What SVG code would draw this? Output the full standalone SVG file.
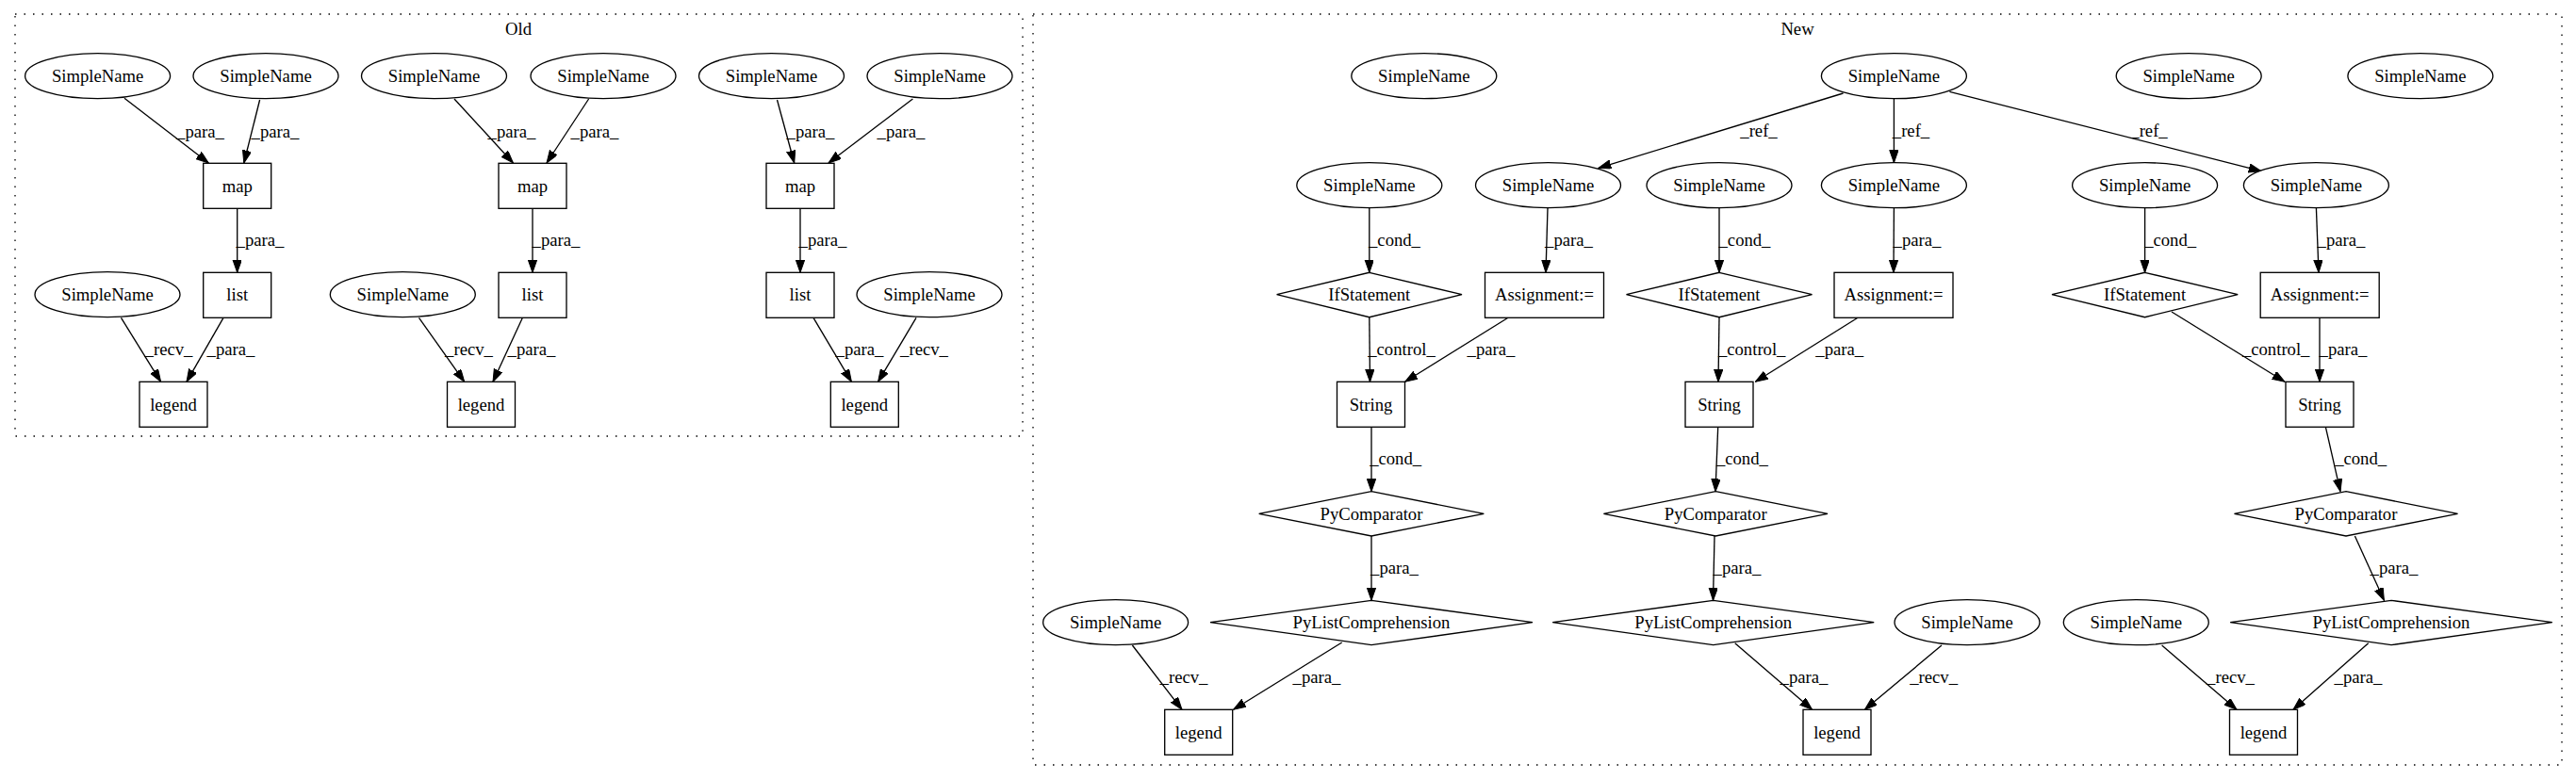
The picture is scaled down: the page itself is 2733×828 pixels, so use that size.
<svg xmlns="http://www.w3.org/2000/svg" width="2733" height="828" viewBox="0 0 2733 828">
<style>
text{font-family:"Liberation Serif","Times New Roman",serif;font-size:18.67px;fill:#000;text-anchor:middle}
.s{fill:#fff;stroke:#000;stroke-width:1.33}
.c{fill:none;stroke:#000;stroke-width:1.33;stroke-dasharray:1.5,8}
.e line{stroke:#000;stroke-width:1.33;marker-end:url(#a)}
</style>
<defs>
<marker id="a" markerUnits="userSpaceOnUse" markerWidth="14" markerHeight="10" refX="13.3" refY="4.67" orient="auto">
<path d="M0,0 L13.3,4.67 L0,9.33 z" fill="#000" stroke="#000" stroke-width="1"/>
</marker>
</defs>
<rect width="2733" height="828" fill="#fff"/>
<g id="cluster_old"><rect class="c" x="16" y="15" width="1069" height="448"/><text x="550" y="37">Old</text></g>
<g id="cluster_new"><rect class="c" x="1096" y="15" width="1622" height="797"/><text x="1907" y="37">New</text></g>

<g id="edges" class="e">
<line x1="132" y1="104.3" x2="221.3" y2="173"/>
<line x1="275.6" y1="106" x2="258.8" y2="173"/>
<line x1="251.7" y1="221.3" x2="251.7" y2="289.3"/>
<line x1="128.5" y1="337.3" x2="170.6" y2="405.3"/>
<line x1="237" y1="337.3" x2="198" y2="405.3"/>
<line x1="482" y1="105" x2="544.4" y2="173"/>
<line x1="624.6" y1="105" x2="580" y2="173"/>
<line x1="565" y1="221.3" x2="565" y2="289.3"/>
<line x1="444.5" y1="337.3" x2="492.7" y2="405.3"/>
<line x1="554.4" y1="337.3" x2="523" y2="405.3"/>
<line x1="824.5" y1="106" x2="842.7" y2="173"/>
<line x1="968.4" y1="105" x2="879" y2="173"/>
<line x1="849" y1="221.3" x2="849" y2="289.3"/>
<line x1="863" y1="337.3" x2="903.4" y2="405.3"/>
<line x1="972" y1="337.3" x2="931.6" y2="405.3"/>

<line x1="1955.5" y1="99" x2="1696" y2="178.3"/>
<line x1="2009.4" y1="104.7" x2="2009.4" y2="172.7"/>
<line x1="2068.4" y1="97.3" x2="2399" y2="181.7"/>
<line x1="1452.8" y1="220.7" x2="1452.8" y2="289.3"/>
<line x1="1642" y1="220.7" x2="1640" y2="289.3"/>
<line x1="1452.8" y1="336.7" x2="1453.5" y2="405.3"/>
<line x1="1600" y1="337.3" x2="1490.7" y2="405.3"/>
<line x1="1455" y1="453.3" x2="1455" y2="521.7"/>
<line x1="1455" y1="569" x2="1455" y2="637.3"/>
<line x1="1201.4" y1="685" x2="1254" y2="753.3"/>
<line x1="1423.7" y1="682" x2="1308.6" y2="753.3"/>
<line x1="1824" y1="220.7" x2="1824" y2="289.3"/>
<line x1="2009.4" y1="220.7" x2="2009" y2="289.3"/>
<line x1="1824" y1="336.7" x2="1823" y2="405.3"/>
<line x1="1971" y1="337.3" x2="1862.4" y2="405.3"/>
<line x1="2275.6" y1="220.7" x2="2275.6" y2="289.3"/>
<line x1="2457.4" y1="220.7" x2="2460" y2="289.3"/>
<line x1="2304" y1="331" x2="2424" y2="405.3"/>
<line x1="2461" y1="337.3" x2="2461" y2="405.3"/>
<line x1="1822.7" y1="453.3" x2="1820" y2="521.7"/>
<line x1="1819" y1="569" x2="1817.5" y2="637.3"/>
<line x1="1840.7" y1="682.7" x2="1922.6" y2="753.3"/>
<line x1="2060" y1="685" x2="1978.4" y2="753.3"/>
<line x1="2467.4" y1="453.3" x2="2483" y2="521.7"/>
<line x1="2498.4" y1="569" x2="2529.4" y2="637.3"/>
<line x1="2293.6" y1="685" x2="2373" y2="753.3"/>
<line x1="2512.7" y1="682.7" x2="2433" y2="753.3"/>
</g>

<g id="edge_labels">
<text x="212.5" y="146">_para_</text>
<text x="292" y="146">_para_</text>
<text x="276" y="261">_para_</text>
<text x="179" y="377">_recv_</text>
<text x="245" y="377">_para_</text>
<text x="543" y="146">_para_</text>
<text x="631" y="146">_para_</text>
<text x="590" y="261">_para_</text>
<text x="497.5" y="377">_recv_</text>
<text x="564" y="377">_para_</text>
<text x="860" y="146">_para_</text>
<text x="956" y="146">_para_</text>
<text x="873" y="261">_para_</text>
<text x="912" y="377">_para_</text>
<text x="980.5" y="377">_recv_</text>

<text x="1866" y="145">_ref_</text>
<text x="2027.5" y="145">_ref_</text>
<text x="2280" y="145">_ref_</text>
<text x="1479.5" y="261">_cond_</text>
<text x="1664.5" y="261">_para_</text>
<text x="1487" y="377">_control_</text>
<text x="1582" y="377">_para_</text>
<text x="1480.6" y="493">_cond_</text>
<text x="1479.5" y="609">_para_</text>
<text x="1256" y="725">_recv_</text>
<text x="1397" y="725">_para_</text>
<text x="1851" y="261">_cond_</text>
<text x="2034" y="261">_para_</text>
<text x="1858.7" y="377">_control_</text>
<text x="1951.7" y="377">_para_</text>
<text x="2302.6" y="261">_cond_</text>
<text x="2484" y="261">_para_</text>
<text x="2414.7" y="377">_control_</text>
<text x="2486" y="377">_para_</text>
<text x="1848.4" y="493">_cond_</text>
<text x="1843" y="609">_para_</text>
<text x="1914" y="725">_para_</text>
<text x="2051.6" y="725">_recv_</text>
<text x="2504.6" y="493">_cond_</text>
<text x="2540" y="609">_para_</text>
<text x="2366.5" y="725">_recv_</text>
<text x="2502" y="725">_para_</text>
</g>

<!-- Old nodes -->
<g id="o_sn1"><ellipse class="s" cx="103.6" cy="80.7" rx="77" ry="24"/><text x="103.6" y="87.2">SimpleName</text></g>
<g id="o_sn2"><ellipse class="s" cx="282" cy="80.7" rx="77" ry="24"/><text x="282" y="87.2">SimpleName</text></g>
<g id="o_sn3"><ellipse class="s" cx="460.5" cy="80.7" rx="77" ry="24"/><text x="460.5" y="87.2">SimpleName</text></g>
<g id="o_sn6"><ellipse class="s" cx="640" cy="80.7" rx="77" ry="24"/><text x="640" y="87.2">SimpleName</text></g>
<g id="o_sn7"><ellipse class="s" cx="818.5" cy="80.7" rx="77" ry="24"/><text x="818.5" y="87.2">SimpleName</text></g>
<g id="o_sn8"><ellipse class="s" cx="997" cy="80.7" rx="77" ry="24"/><text x="997" y="87.2">SimpleName</text></g>
<g id="o_map1"><rect class="s" x="215.7" y="173.3" width="72" height="48"/><text x="251.7" y="203.8">map</text></g>
<g id="o_map2"><rect class="s" x="529" y="173.3" width="72" height="48"/><text x="565" y="203.8">map</text></g>
<g id="o_map3"><rect class="s" x="813" y="173.3" width="72" height="48"/><text x="849" y="203.8">map</text></g>
<g id="o_list1"><rect class="s" x="215.7" y="289.3" width="72" height="48"/><text x="251.7" y="319.2">list</text></g>
<g id="o_list2"><rect class="s" x="529" y="289.3" width="72" height="48"/><text x="565" y="319.2">list</text></g>
<g id="o_list3"><rect class="s" x="813" y="289.3" width="72" height="48"/><text x="849" y="319.2">list</text></g>
<g id="o_sn4"><ellipse class="s" cx="114" cy="312.7" rx="77" ry="24"/><text x="114" y="319.2">SimpleName</text></g>
<g id="o_sn5"><ellipse class="s" cx="427.3" cy="312.7" rx="77" ry="24"/><text x="427.3" y="319.2">SimpleName</text></g>
<g id="o_sn9"><ellipse class="s" cx="986" cy="312.7" rx="77" ry="24"/><text x="986" y="319.2">SimpleName</text></g>
<g id="o_legend1"><rect class="s" x="148" y="405.3" width="72" height="48"/><text x="184" y="435.5">legend</text></g>
<g id="o_legend2"><rect class="s" x="474.5" y="405.3" width="72" height="48"/><text x="510.5" y="435.5">legend</text></g>
<g id="o_legend3"><rect class="s" x="881.3" y="405.3" width="72" height="48"/><text x="917.3" y="435.5">legend</text></g>

<!-- New nodes -->
<g id="n_sa"><ellipse class="s" cx="1510.8" cy="80.7" rx="77" ry="24"/><text x="1510.8" y="87.2">SimpleName</text></g>
<g id="n_hub"><ellipse class="s" cx="2009.4" cy="80.7" rx="77" ry="24"/><text x="2009.4" y="87.2">SimpleName</text></g>
<g id="n_sb"><ellipse class="s" cx="2322.2" cy="80.7" rx="77" ry="24"/><text x="2322.2" y="87.2">SimpleName</text></g>
<g id="n_sc"><ellipse class="s" cx="2567.9" cy="80.7" rx="77" ry="24"/><text x="2567.9" y="87.2">SimpleName</text></g>
<g id="n_cond1"><ellipse class="s" cx="1452.8" cy="196.7" rx="77" ry="24"/><text x="1452.8" y="203.2">SimpleName</text></g>
<g id="n_ref1"><ellipse class="s" cx="1642.5" cy="196.7" rx="77" ry="24"/><text x="1642.5" y="203.2">SimpleName</text></g>
<g id="n_cond2"><ellipse class="s" cx="1824" cy="196.7" rx="77" ry="24"/><text x="1824" y="203.2">SimpleName</text></g>
<g id="n_ref2"><ellipse class="s" cx="2009.4" cy="196.7" rx="77" ry="24"/><text x="2009.4" y="203.2">SimpleName</text></g>
<g id="n_cond3"><ellipse class="s" cx="2275.6" cy="196.7" rx="77" ry="24"/><text x="2275.6" y="203.2">SimpleName</text></g>
<g id="n_ref3"><ellipse class="s" cx="2457.4" cy="196.7" rx="77" ry="24"/><text x="2457.4" y="203.2">SimpleName</text></g>
<g id="n_if1"><polygon class="s" points="1452.8,289.3 1551,312.7 1452.8,336.7 1354.6,312.7"/><text x="1452.8" y="319.2">IfStatement</text></g>
<g id="n_if2"><polygon class="s" points="1824,289.3 1922.5,312.7 1824,336.7 1725.5,312.7"/><text x="1824" y="319.2">IfStatement</text></g>
<g id="n_if3"><polygon class="s" points="2275.6,289.3 2374.2,312.7 2275.6,336.7 2177,312.7"/><text x="2275.6" y="319.2">IfStatement</text></g>
<g id="n_as1"><rect class="s" x="1575.5" y="289.3" width="126" height="48"/><text x="1638.5" y="319.2">Assignment:=</text></g>
<g id="n_as2"><rect class="s" x="1946" y="289.3" width="126" height="48"/><text x="2009" y="319.2">Assignment:=</text></g>
<g id="n_as3"><rect class="s" x="2398.2" y="289.3" width="126" height="48"/><text x="2461.2" y="319.2">Assignment:=</text></g>
<g id="n_str1"><rect class="s" x="1418.5" y="405.3" width="72" height="48"/><text x="1454.5" y="435.5">String</text></g>
<g id="n_str2"><rect class="s" x="1788" y="405.3" width="72" height="48"/><text x="1824" y="435.5">String</text></g>
<g id="n_str3"><rect class="s" x="2425" y="405.3" width="72" height="48"/><text x="2461" y="435.5">String</text></g>
<g id="n_pc1"><polygon class="s" points="1455,521.7 1574.3,545.3 1455,569 1335.7,545.3"/><text x="1455" y="551.8">PyComparator</text></g>
<g id="n_pc2"><polygon class="s" points="1820.2,521.7 1939,545.3 1820.2,569 1701.4,545.3"/><text x="1820.2" y="551.8">PyComparator</text></g>
<g id="n_pc3"><polygon class="s" points="2489,521.7 2607.5,545.3 2489,569 2370.5,545.3"/><text x="2489" y="551.8">PyComparator</text></g>
<g id="n_pl1"><polygon class="s" points="1455,637.3 1626,660.7 1455,684.7 1284,660.7"/><text x="1455" y="667.2">PyListComprehension</text></g>
<g id="n_pl2"><polygon class="s" points="1817.7,637.3 1988.2,660.7 1817.7,684.7 1647.2,660.7"/><text x="1817.7" y="667.2">PyListComprehension</text></g>
<g id="n_pl3"><polygon class="s" points="2537,637.3 2707.8,660.7 2537,684.7 2366.2,660.7"/><text x="2537" y="667.2">PyListComprehension</text></g>
<g id="n_sr1"><ellipse class="s" cx="1183.6" cy="660.7" rx="77" ry="24"/><text x="1183.6" y="667.2">SimpleName</text></g>
<g id="n_sr2"><ellipse class="s" cx="2087" cy="660.7" rx="77" ry="24"/><text x="2087" y="667.2">SimpleName</text></g>
<g id="n_sr3"><ellipse class="s" cx="2266.3" cy="660.7" rx="77" ry="24"/><text x="2266.3" y="667.2">SimpleName</text></g>
<g id="n_leg1"><rect class="s" x="1235.7" y="753.3" width="72" height="48"/><text x="1271.7" y="783.5">legend</text></g>
<g id="n_leg2"><rect class="s" x="1913" y="753.3" width="72" height="48"/><text x="1949" y="783.5">legend</text></g>
<g id="n_leg3"><rect class="s" x="2365.5" y="753.3" width="72" height="48"/><text x="2401.5" y="783.5">legend</text></g>
</svg>
